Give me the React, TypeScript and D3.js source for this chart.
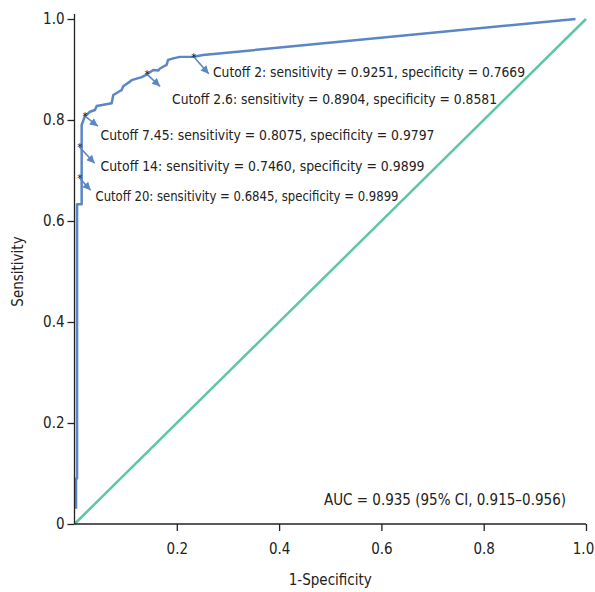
import { useEffect, useRef } from "react";
import * as d3 from "d3";

// ROC curve points: [1 - specificity, sensitivity]
const rocX = [0.003, 0.003, 0.005, 0.005, 0.014, 0.014, 0.0203, 0.0303, 0.04, 0.0434, 0.0727, 0.0758, 0.0922, 0.0953, 0.1084, 0.1117, 0.1313, 0.1419, 0.154, 0.164, 0.167, 0.18, 0.183, 0.193, 0.206, 0.2331, 0.2516, 0.9795];
const rocY = [0.03, 0.09, 0.09, 0.633, 0.633, 0.79, 0.8075, 0.8164, 0.8198, 0.8277, 0.833, 0.8495, 0.8594, 0.867, 0.876, 0.879, 0.885, 0.8904, 0.899, 0.898, 0.902, 0.909, 0.919, 0.922, 0.925, 0.9251, 0.9287, 1.0];

const cutoffs = ["2", "2.6", "7.45", "14", "20"];
const sens = [0.9251, 0.8904, 0.8075, 0.746, 0.6845];
const spec = [0.7669, 0.8581, 0.9797, 0.9899, 0.9899];

const yTicks = [0, 0.2, 0.4, 0.6, 0.8, 1.0];
const xTicks = [0.2, 0.4, 0.6, 0.8, 1.0];

const aucLabel = "AUC = 0.935 (95% CI, 0.915–0.956)";

const FONT = "'DejaVu Sans Condensed', 'DejaVu Sans', sans-serif";
const BLUE = "#5b86c6";
const GREEN = "#5ec7a2";

export default function App() {
  const ref = useRef<SVGSVGElement>(null);

  useEffect(() => {
    const width = 595;
    const height = 592;
    const margin = { top: 19, right: 9, bottom: 68, left: 74.5 };

    const svg = d3.select(ref.current);
    svg.selectAll("*").remove();

    const x = d3.scaleLinear().domain([0, 1]).range([margin.left, width - margin.right]);
    const y = d3.scaleLinear().domain([0, 1]).range([height - margin.bottom, margin.top]);

    svg.append("defs").append("marker")
      .attr("id", "arrow")
      .attr("viewBox", "0 0 10 10")
      .attr("refX", 10)
      .attr("refY", 5)
      .attr("markerWidth", 9)
      .attr("markerHeight", 8)
      .attr("markerUnits", "userSpaceOnUse")
      .attr("orient", "auto")
      .append("path")
      .attr("d", "M0,0 L10,5 L0,10 z")
      .attr("fill", BLUE);

    // diagonal reference
    svg.append("line")
      .attr("x1", x(0)).attr("y1", y(0))
      .attr("x2", x(1)).attr("y2", y(1))
      .attr("stroke", GREEN)
      .attr("stroke-width", 2.5);

    // ROC curve
    const pts: [number, number][] = rocX.map((d, i) => [d, rocY[i]]);
    const line = d3.line<[number, number]>().x(d => x(d[0])).y(d => y(d[1]));
    svg.append("path")
      .attr("d", line(pts))
      .attr("fill", "none")
      .attr("stroke", BLUE)
      .attr("stroke-width", 2.5)
      .attr("stroke-linejoin", "round");

    // axes
    const yAxis = svg.append("g")
      .attr("transform", `translate(${x(0)},0)`)
      .call(d3.axisLeft(y).tickValues(yTicks).tickSize(7).tickPadding(3)
        .tickFormat(d => (d === 0 ? "0" : d3.format(".1f")(d as number))));
    yAxis.select(".domain").attr("d", `M0,${y(1) - 5}V${y(0)}`);

    const xAxis = svg.append("g")
      .attr("transform", `translate(0,${y(0)})`)
      .call(d3.axisBottom(x).tickValues(xTicks).tickSize(7).tickPadding(12)
        .tickFormat(d => d3.format(".1f")(d as number)));
    xAxis.select(".domain").attr("d", `M${x(0)},0H${x(1)}`);
    xAxis.selectAll(".tick text").attr("dx", (d) => (d === 1 ? -3 : 0));

    svg.selectAll(".tick text")
      .attr("font-family", FONT)
      .attr("font-size", 15)
      .attr("fill", "#222");
    svg.selectAll(".domain, .tick line").attr("stroke", "#222").attr("stroke-width", 1.3);

    // cutoff annotations
    const arrowOff: [number, number][] = [[15, 17], [13, 12], [13, 10], [15, 16], [11, 12]];
    const labelPos: [number, number][] = [[213, 77], [172, 103.5], [100.5, 139.5], [100.5, 171], [95.5, 201]];
    const labelLen = [312, 325, 334, 324, 303];

    cutoffs.forEach((c, i) => {
      const px = x(1 - spec[i]);
      const py = y(sens[i]);
      svg.append("line")
        .attr("x1", px).attr("y1", py)
        .attr("x2", px + arrowOff[i][0]).attr("y2", py + arrowOff[i][1])
        .attr("stroke", BLUE)
        .attr("stroke-width", 1.6)
        .attr("marker-end", "url(#arrow)");
      svg.append("text")
        .attr("x", px)
        .attr("y", py + 4)
        .attr("text-anchor", "middle")
        .attr("font-family", "DejaVu Sans")
        .attr("font-size", 10)
        .attr("fill", "#111")
        .text("*");
      svg.append("text")
        .attr("x", labelPos[i][0])
        .attr("y", labelPos[i][1])
        .attr("font-family", FONT)
        .attr("font-size", 13.7)
        .attr("textLength", labelLen[i])
        .attr("lengthAdjust", "spacingAndGlyphs")
        .attr("fill", "#222")
        .text(`Cutoff ${c}: sensitivity = ${sens[i].toFixed(4)}, specificity = ${spec[i].toFixed(4)}`);
    });

    svg.append("text")
      .attr("x", 566)
      .attr("y", 505)
      .attr("text-anchor", "end")
      .attr("font-family", FONT)
      .attr("font-size", 15)
      .attr("fill", "#222")
      .text(aucLabel);

    svg.append("text")
      .attr("x", (x(0) + x(1)) / 2)
      .attr("y", 585)
      .attr("text-anchor", "middle")
      .attr("font-family", FONT)
      .attr("font-size", 15)
      .attr("fill", "#222")
      .text("1-Specificity");

    svg.append("text")
      .attr("transform", `translate(23,${(y(0) + y(1)) / 2}) rotate(-90)`)
      .attr("text-anchor", "middle")
      .attr("font-family", FONT)
      .attr("font-size", 15)
      .attr("fill", "#222")
      .text("Sensitivity");
  }, []);

  return (
    <svg
      ref={ref}
      width={595}
      height={592}
      style={{ position: "absolute", left: 0, top: 0, background: "#fff" }}
    />
  );
}
